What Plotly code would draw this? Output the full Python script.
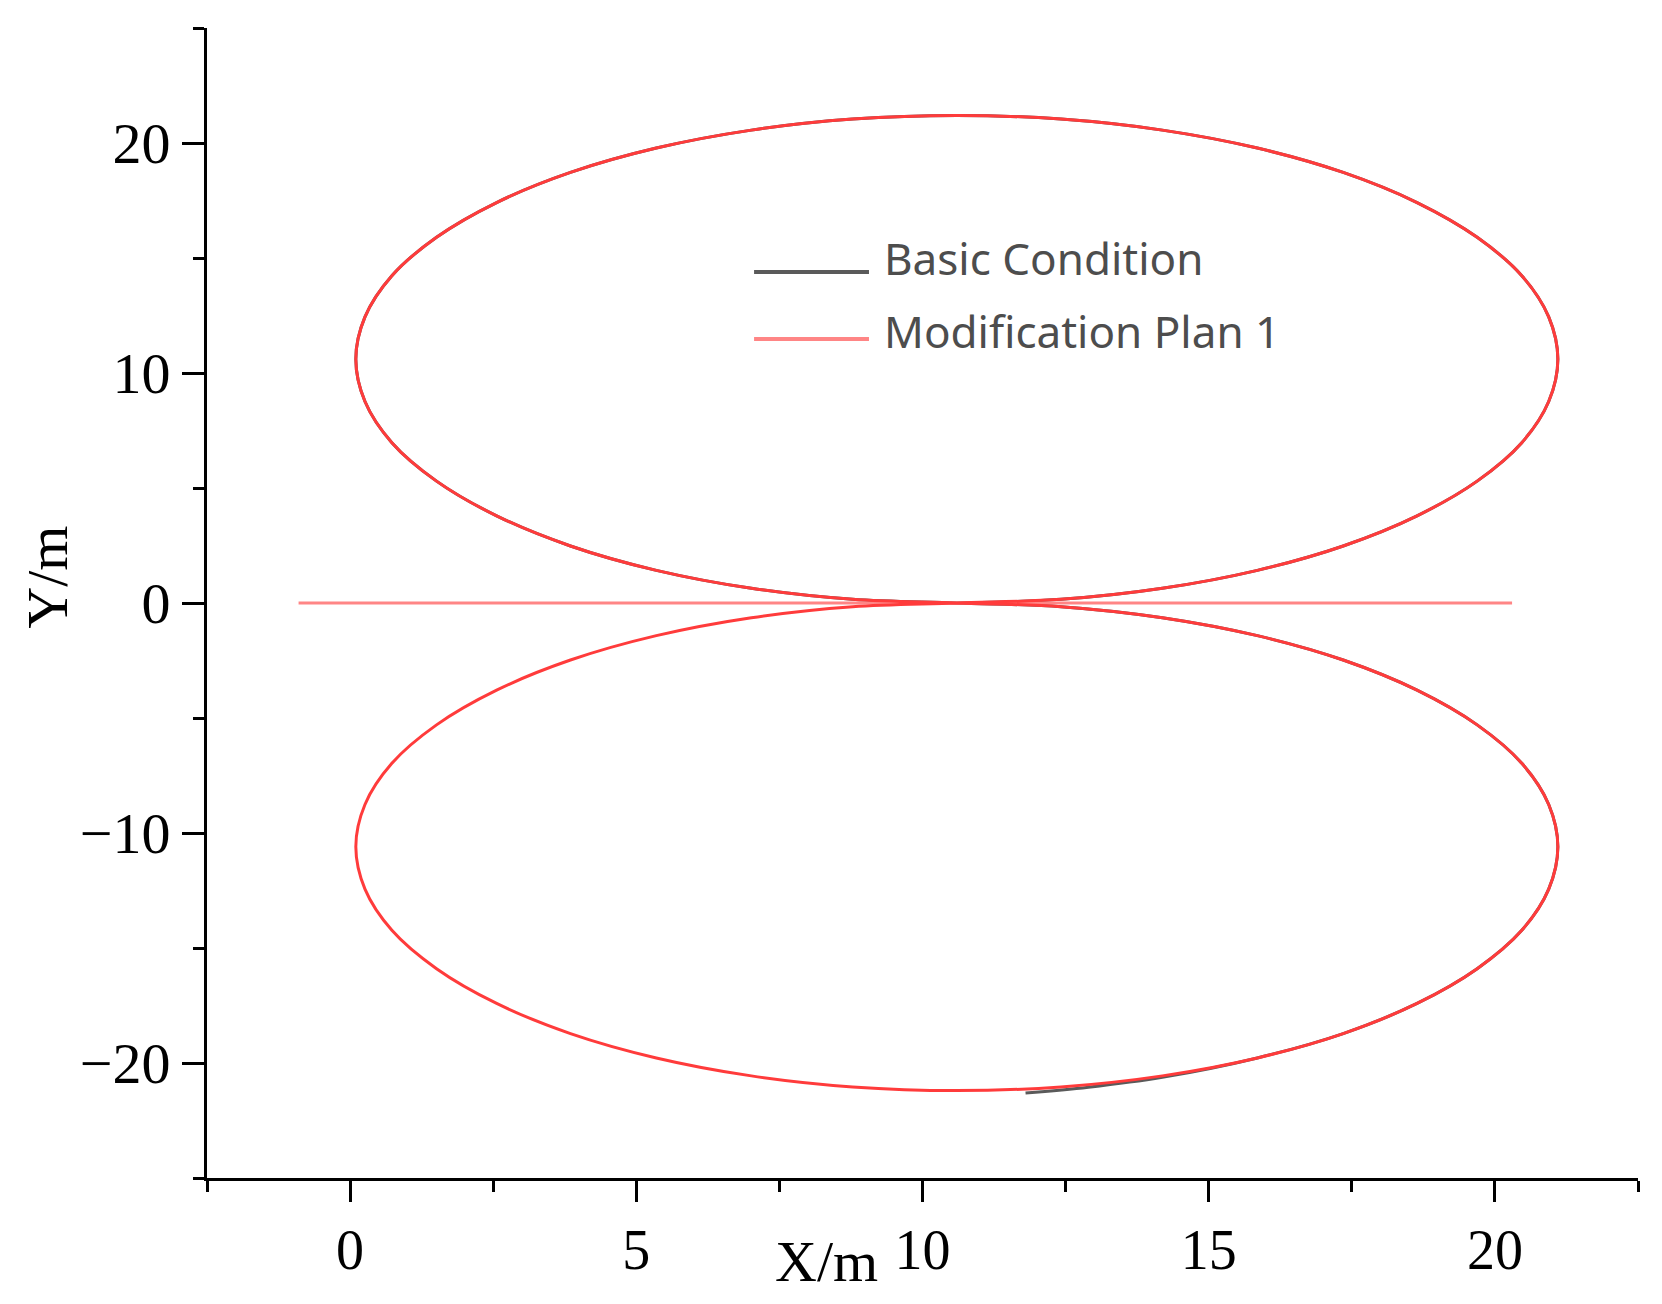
import plotly.graph_objects as go

# Upper loop (X/m, Y/m)
upper_x = [10.6, 12.42, 14.19, 15.85, 17.35, 18.64, 19.69, 20.47, 20.94, 21.1,
           20.94, 20.47, 19.69, 18.64, 17.35, 15.85, 14.19, 12.42, 10.6,
           8.78, 7.01, 5.35, 3.85, 2.56, 1.51, 0.73, 0.26, 0.1,
           0.26, 0.73, 1.51, 2.56, 3.85, 5.35, 7.01, 8.78, 10.6]
upper_y = [0.0, 0.16, 0.64, 1.42, 2.48, 3.79, 5.3, 6.97, 8.76, 10.6,
           12.44, 14.23, 15.9, 17.41, 18.72, 19.78, 20.56, 21.04, 21.2,
           21.04, 20.56, 19.78, 18.72, 17.41, 15.9, 14.23, 12.44, 10.6,
           8.76, 6.97, 5.3, 3.79, 2.48, 1.42, 0.64, 0.16, 0.0]

# Lower loop
lower_x = [10.6, 12.42, 14.19, 15.85, 17.35, 18.64, 19.69, 20.47, 20.94, 21.1,
           20.94, 20.47, 19.69, 18.64, 17.35, 15.85, 14.19, 12.42, 10.6,
           8.78, 7.01, 5.35, 3.85, 2.56, 1.51, 0.73, 0.26, 0.1,
           0.26, 0.73, 1.51, 2.56, 3.85, 5.35, 7.01, 8.78, 10.6]
lower_y = [0.0, -0.16, -0.64, -1.42, -2.48, -3.79, -5.3, -6.97, -8.76, -10.6,
           -12.44, -14.23, -15.9, -17.41, -18.72, -19.78, -20.56, -21.04, -21.2,
           -21.04, -20.56, -19.78, -18.72, -17.41, -15.9, -14.23, -12.44, -10.6,
           -8.76, -6.97, -5.3, -3.79, -2.48, -1.42, -0.64, -0.16, 0.0]

# Basic Condition: same loops, ends a little lower near the bottom
basic_tail_x = [14.19, 12.9, 11.8]
basic_tail_y = [-20.62, -21.05, -21.3]
basic_x = upper_x + lower_x[1:16] + basic_tail_x
basic_y = upper_y + lower_y[1:16] + basic_tail_y

# straight run along Y = 0
line_x = [-0.9, 20.3]
line_y = [0.0, 0.0]

RED = '#ff3b3b'
PINK = '#ff8585'
GRAY = '#5a5a5a'

fig = go.Figure()

fig.add_trace(go.Scatter(x=basic_x, y=basic_y, mode='lines', name='Basic Condition',
                         line=dict(color=GRAY, width=3, shape='spline', smoothing=1.0)))
fig.add_trace(go.Scatter(x=line_x, y=line_y, mode='lines', name='Modification Plan 1',
                         line=dict(color=PINK, width=3)))
fig.add_trace(go.Scatter(x=upper_x + lower_x[1:], y=upper_y + lower_y[1:], mode='lines',
                         name='Modification Plan 1',
                         line=dict(color=RED, width=3, shape='spline', smoothing=1.0)))

axis_common = dict(
    showline=True, linecolor='black', linewidth=3,
    showgrid=False, zeroline=False,
    ticks='outside', tickcolor='black', tickwidth=3,
)

fig.update_xaxes(range=[-2.5, 22.5], dtick=5, tick0=0, ticklen=21,
                 minor=dict(dtick=2.5, tick0=0, ticks='outside', ticklen=11,
                            tickwidth=3, tickcolor='black'),
                 tickfont=dict(family='Liberation Serif', size=56, color='black'),
                 **axis_common)
fig.update_yaxes(range=[-25, 25], dtick=10, tick0=0, ticklen=22,
                 minor=dict(dtick=5, tick0=0, ticks='outside', ticklen=11,
                            tickwidth=3, tickcolor='black'),
                 tickfont=dict(family='Liberation Serif', size=58, color='black'),
                 **axis_common)

# hand-drawn legend, like the original
legend_items = [('Basic Condition', GRAY, 0.7878, 0.800),
                ('Modification Plan 1', PINK, 0.7296, 0.7365)]
for text, colour, y_line, y_text in legend_items:
    fig.add_shape(type='line', xref='paper', yref='paper', x0=0.3823, x1=0.4626,
                  y0=y_line, y1=y_line, line=dict(color=colour, width=4))
    fig.add_annotation(text=text, xref='paper', yref='paper', x=0.4717, y=y_text,
                       xanchor='left', yanchor='middle', showarrow=False,
                       font=dict(family='Noto Sans', size=44, color='#4d4d4d'))

# axis titles
fig.add_annotation(text='X/m', xref='paper', yref='paper', x=0.4331, y=0, yshift=-83,
                   xanchor='center', yanchor='middle', showarrow=False,
                   font=dict(family='Liberation Serif', size=58, color='black'))
fig.add_annotation(text='Y/m', xref='paper', yref='paper', x=0, y=0.522, xshift=-159,
                   xanchor='center', yanchor='middle', showarrow=False, textangle=-90,
                   font=dict(family='Liberation Serif', size=58, color='black'))

# the page body keeps its 8px margin, so the figure is sized to fit inside it
fig.update_layout(
    width=1646, height=1288,
    margin=dict(l=199, r=16, t=20, b=118),
    plot_bgcolor='white', paper_bgcolor='white',
    showlegend=False,
)

fig.write_html("out.html")
